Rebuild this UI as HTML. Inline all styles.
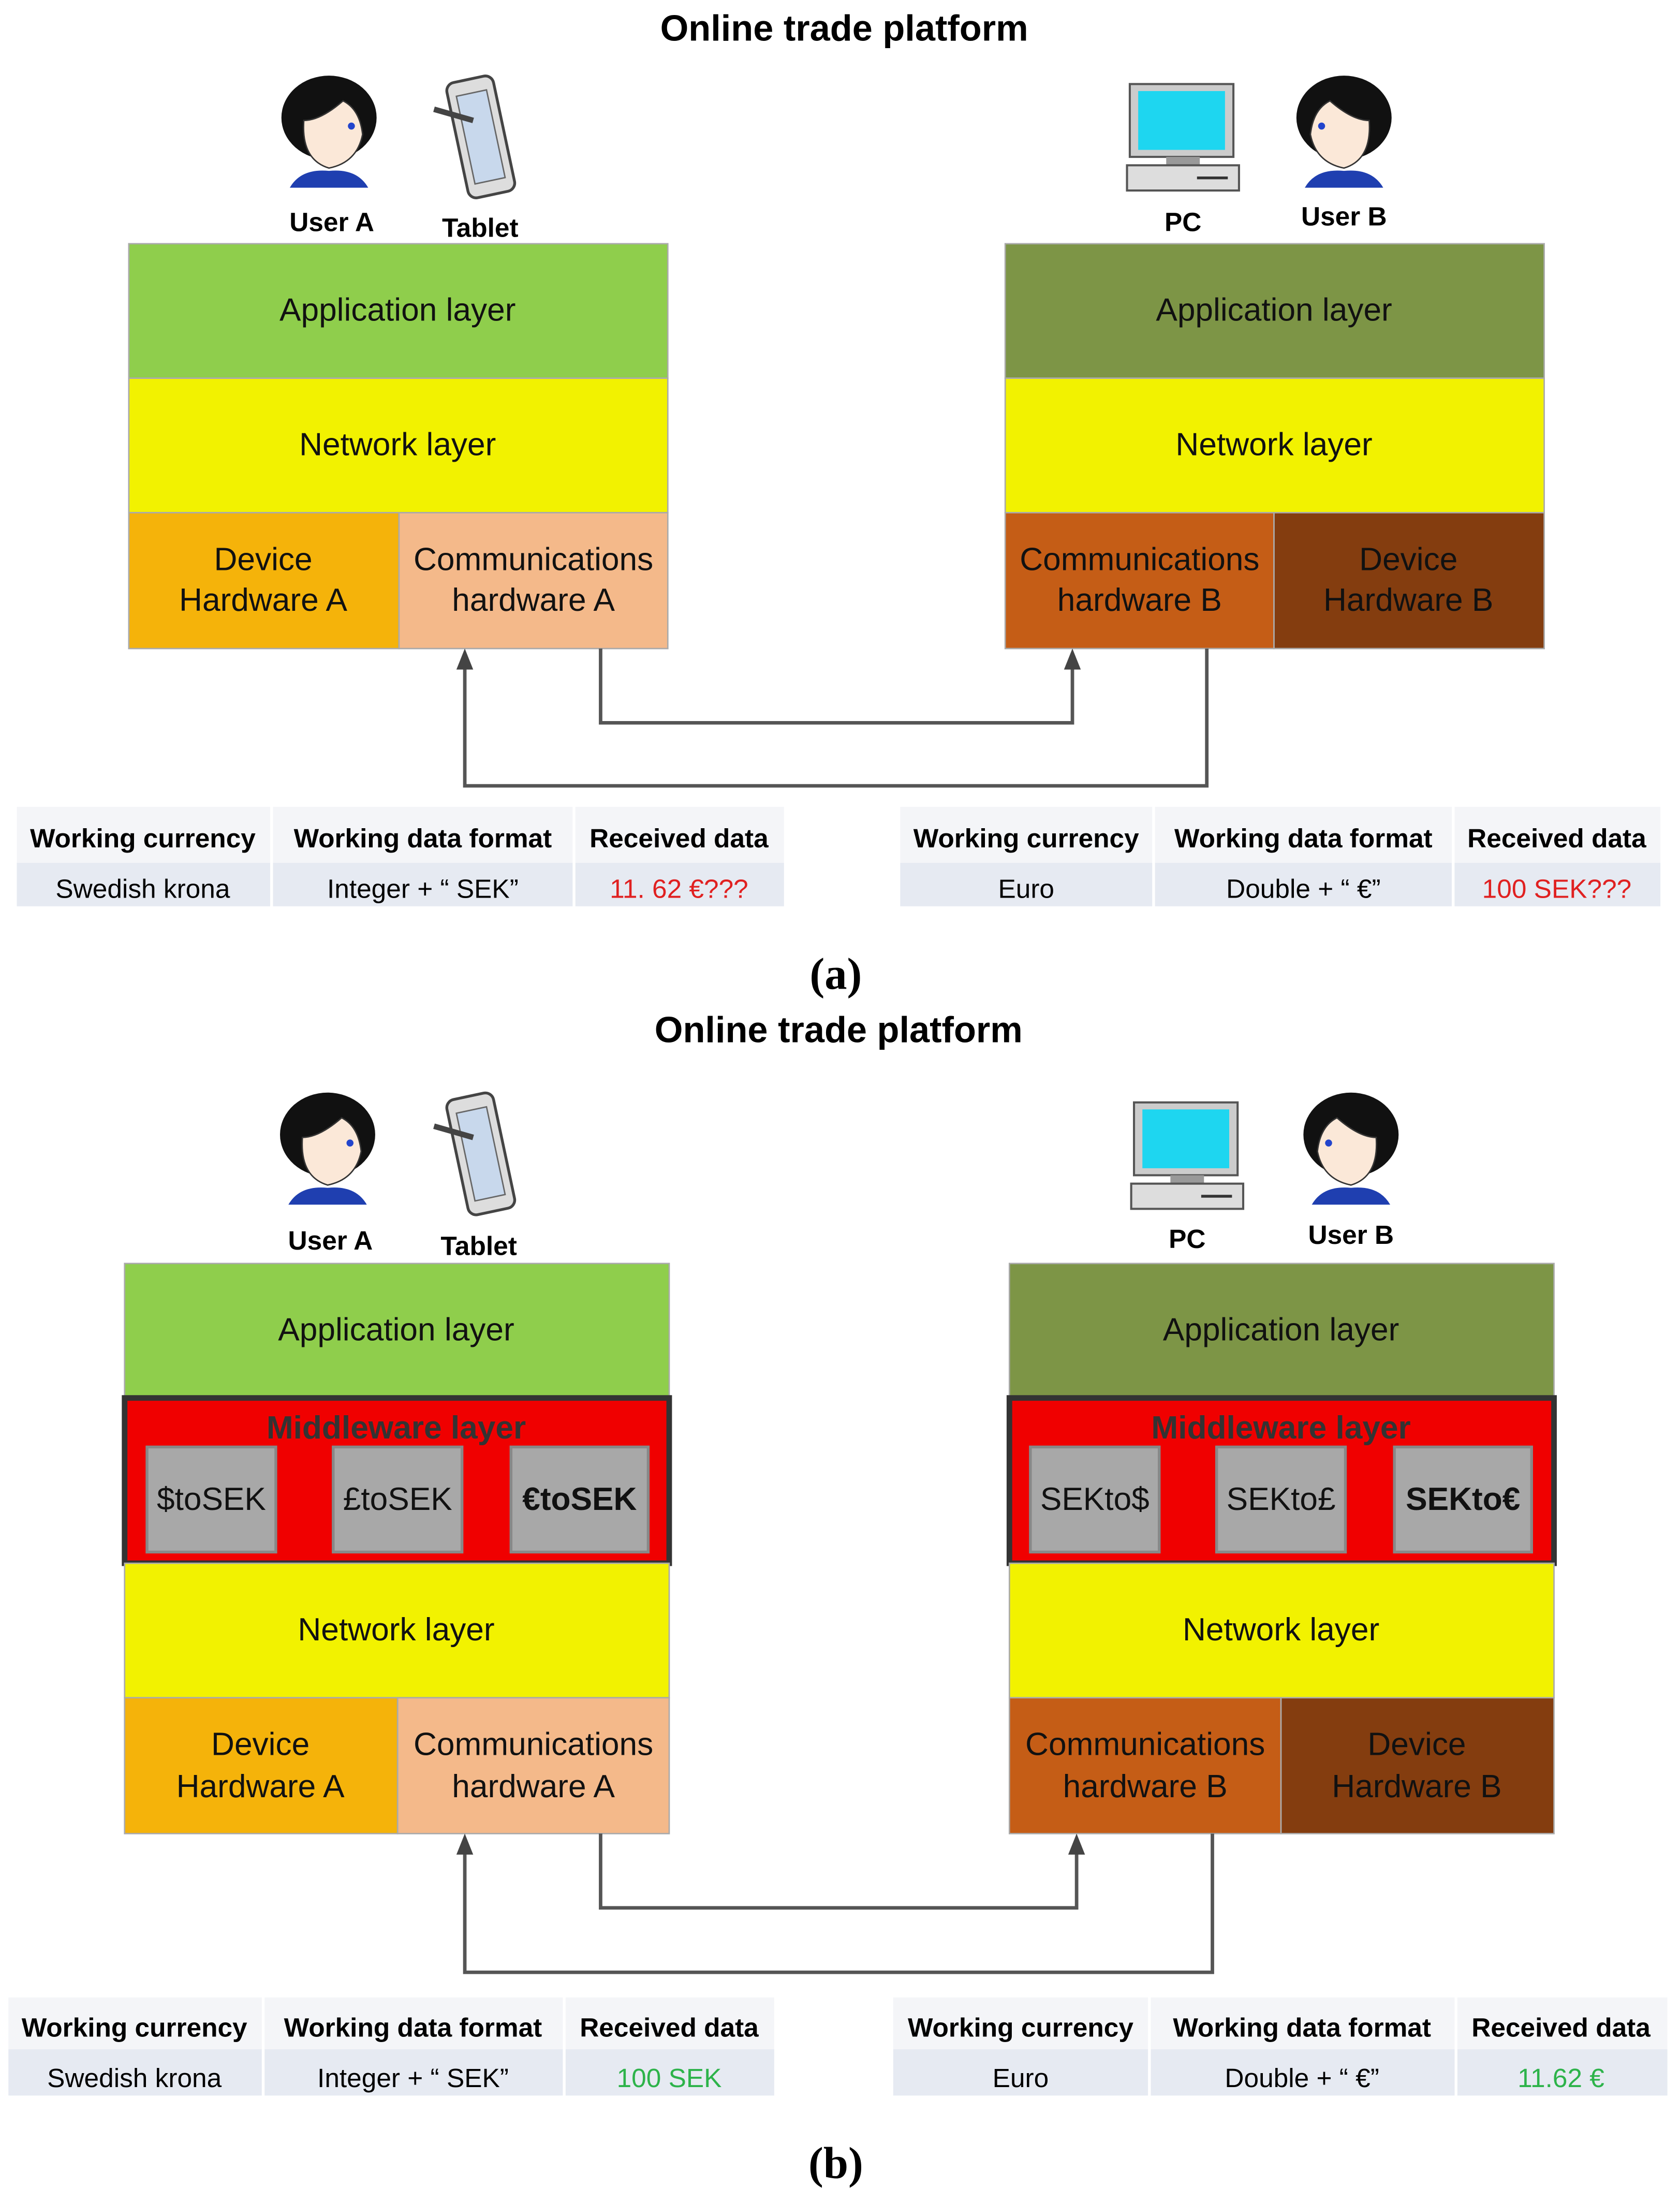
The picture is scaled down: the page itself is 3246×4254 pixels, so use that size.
<!DOCTYPE html>
<html><head><meta charset="utf-8"><style>
html,body{margin:0;padding:0;background:#fff;}
svg{display:block;}
text{font-family:"Liberation Sans",sans-serif;}
</style></head><body>
<svg width="3246" height="4254" viewBox="0 0 1200 1572" preserveAspectRatio="none" xmlns="http://www.w3.org/2000/svg">
<defs>
<g id="person">
<ellipse cx="0" cy="-8" rx="34" ry="30" fill="#111"/>
<path d="M-18,-6 Q-20,22 0,28 Q20,24 24,4 Q22,-14 10,-20 Q-6,-6 -18,-6Z" fill="#fbe8d8" stroke="#333" stroke-width="1"/>
<path d="M-28,42 Q-20,28 0,30 Q20,28 28,42Z" fill="#1f3fb0"/>
<circle cx="16" cy="-2" r="2.5" fill="#2244cc"/>
</g>
<g id="tablet">
<rect x="-16" y="-40" width="34" height="84" rx="6" fill="#ddd" stroke="#444" stroke-width="2" transform="rotate(-12)"/>
<rect x="-10" y="-30" width="22" height="64" fill="#c8d8ec" stroke="#666" transform="rotate(-12)"/>
<line x1="-32" y1="-18" x2="-4" y2="-10" stroke="#444" stroke-width="4"/>
</g>
<g id="pc">
<rect x="-38" y="-40" width="74" height="52" fill="#ccc" stroke="#555" stroke-width="1.5"/>
<rect x="-32" y="-35" width="62" height="42" fill="#1ed6f0"/>
<rect x="-12" y="12" width="24" height="6" fill="#999"/>
<rect x="-40" y="18" width="80" height="18" fill="#ddd" stroke="#555" stroke-width="1.5"/>
<line x1="10" y1="27" x2="32" y2="27" stroke="#333" stroke-width="2"/>
</g>
</defs>

<text x="603" y="29" font-size="26" font-weight="bold" text-anchor="middle">Online trade platform</text>
<use href="#person" x="235" y="92"/>
<text x="237" y="165" font-size="19" font-weight="bold" text-anchor="middle">User A</text>
<use href="#tablet" x="342" y="96"/>
<text x="343" y="169" font-size="19" font-weight="bold" text-anchor="middle">Tablet</text>
<use href="#pc" x="845" y="100"/>
<text x="845" y="165" font-size="19" font-weight="bold" text-anchor="middle">PC</text>
<g transform="translate(960,92) scale(-1,1)"><use href="#person"/></g>
<text x="960" y="161" font-size="19" font-weight="bold" text-anchor="middle">User B</text>

<g font-size="23" text-anchor="middle" fill="#111">
<rect x="92" y="174" width="385" height="96" fill="#8fce4c" stroke="#aaa"/>
<text x="284" y="229">Application layer</text>
<rect x="92" y="270" width="385" height="96" fill="#f2f200" stroke="#aaa"/>
<text x="284" y="325">Network layer</text>
<rect x="92" y="366" width="193" height="97" fill="#f5b30a" stroke="#aaa"/>
<text x="188" y="407">Device</text><text x="188" y="436">Hardware A</text>
<rect x="285" y="366" width="192" height="97" fill="#f4b98a" stroke="#aaa"/>
<text x="381" y="407">Communications</text><text x="381" y="436">hardware A</text>

<rect x="718" y="174" width="385" height="96" fill="#7d9546" stroke="#aaa"/>
<text x="910" y="229">Application layer</text>
<rect x="718" y="270" width="385" height="96" fill="#f2f200" stroke="#aaa"/>
<text x="910" y="325">Network layer</text>
<rect x="718" y="366" width="192" height="97" fill="#c55d16" stroke="#aaa"/>
<text x="814" y="407">Communications</text><text x="814" y="436">hardware B</text>
<rect x="910" y="366" width="193" height="97" fill="#843d0f" stroke="#aaa"/>
<text x="1006" y="407">Device</text><text x="1006" y="436">Hardware B</text>
</g>

<g fill="none" stroke="#555" stroke-width="2.5">
<polyline points="429,463 429,516 766,516 766,474"/>
<polyline points="862,463 862,561 332,561 332,474"/>
</g>
<path d="M760,478 L766,463 L772,478Z" fill="#444"/>
<path d="M326,478 L332,463 L338,478Z" fill="#444"/>

<g font-size="19">
<rect x="12" y="576" width="181" height="40" fill="#f4f5f8"/><rect x="195" y="576" width="214" height="40" fill="#f4f5f8"/><rect x="411" y="576" width="149" height="40" fill="#f4f5f8"/>
<rect x="12" y="616" width="181" height="31" fill="#e6eaf2"/><rect x="195" y="616" width="214" height="31" fill="#e6eaf2"/><rect x="411" y="616" width="149" height="31" fill="#e6eaf2"/>
<g font-weight="bold" text-anchor="middle">
<text x="102" y="605">Working currency</text><text x="302" y="605">Working data format</text><text x="485" y="605">Received data</text>
</g>
<g text-anchor="middle">
<text x="102" y="641">Swedish krona</text><text x="302" y="641">Integer + “ SEK”</text><text x="485" y="641" fill="#e02020">11. 62 €???</text>
</g>
<rect x="643" y="576" width="180" height="40" fill="#f4f5f8"/><rect x="825" y="576" width="212" height="40" fill="#f4f5f8"/><rect x="1039" y="576" width="147" height="40" fill="#f4f5f8"/>
<rect x="643" y="616" width="180" height="31" fill="#e6eaf2"/><rect x="825" y="616" width="212" height="31" fill="#e6eaf2"/><rect x="1039" y="616" width="147" height="31" fill="#e6eaf2"/>
<g font-weight="bold" text-anchor="middle">
<text x="733" y="605">Working currency</text><text x="931" y="605">Working data format</text><text x="1112" y="605">Received data</text>
</g>
<g text-anchor="middle">
<text x="733" y="641">Euro</text><text x="931" y="641">Double + “ €”</text><text x="1112" y="641" fill="#e02020">100 SEK???</text>
</g>
</g>
<text x="597" y="706" font-size="32" font-weight="bold" text-anchor="middle" style="font-family:'Liberation Serif',serif">(a)</text>

<text x="599" y="744" font-size="26" font-weight="bold" text-anchor="middle">Online trade platform</text>
<use href="#person" x="234" y="818"/>
<text x="236" y="892" font-size="19" font-weight="bold" text-anchor="middle">User A</text>
<use href="#tablet" x="342" y="822"/>
<text x="342" y="896" font-size="19" font-weight="bold" text-anchor="middle">Tablet</text>
<use href="#pc" x="848" y="827"/>
<text x="848" y="891" font-size="19" font-weight="bold" text-anchor="middle">PC</text>
<g transform="translate(965,818) scale(-1,1)"><use href="#person"/></g>
<text x="965" y="888" font-size="19" font-weight="bold" text-anchor="middle">User B</text>

<g font-size="23" text-anchor="middle" fill="#111">
<rect x="89" y="902" width="389" height="96" fill="#8fce4c" stroke="#aaa"/>
<text x="283" y="957">Application layer</text>
<rect x="89" y="998" width="389" height="118" fill="#f00000" stroke="#333" stroke-width="4"/>
<text x="283" y="1027" font-weight="bold" fill="#333">Middleware layer</text>
<rect x="105" y="1033" width="92" height="75" fill="#a8a8a8" stroke="#888" stroke-width="2"/><text x="151" y="1078">$toSEK</text>
<rect x="238" y="1033" width="92" height="75" fill="#a8a8a8" stroke="#888" stroke-width="2"/><text x="284" y="1078">£toSEK</text>
<rect x="365" y="1033" width="98" height="75" fill="#a8a8a8" stroke="#888" stroke-width="2"/><text x="414" y="1078" font-weight="bold">€toSEK</text>
<rect x="89" y="1116" width="389" height="96" fill="#f2f200" stroke="#aaa"/>
<text x="283" y="1171">Network layer</text>
<rect x="89" y="1212" width="195" height="97" fill="#f5b30a" stroke="#aaa"/>
<text x="186" y="1253">Device</text><text x="186" y="1283">Hardware A</text>
<rect x="284" y="1212" width="194" height="97" fill="#f4b98a" stroke="#aaa"/>
<text x="381" y="1253">Communications</text><text x="381" y="1283">hardware A</text>

<rect x="721" y="902" width="389" height="96" fill="#7d9546" stroke="#aaa"/>
<text x="915" y="957">Application layer</text>
<rect x="721" y="998" width="389" height="118" fill="#f00000" stroke="#333" stroke-width="4"/>
<text x="915" y="1027" font-weight="bold" fill="#333">Middleware layer</text>
<rect x="736" y="1033" width="92" height="75" fill="#a8a8a8" stroke="#888" stroke-width="2"/><text x="782" y="1078">SEKto$</text>
<rect x="869" y="1033" width="92" height="75" fill="#a8a8a8" stroke="#888" stroke-width="2"/><text x="915" y="1078">SEKto£</text>
<rect x="996" y="1033" width="98" height="75" fill="#a8a8a8" stroke="#888" stroke-width="2"/><text x="1045" y="1078" font-weight="bold">SEKto€</text>
<rect x="721" y="1116" width="389" height="96" fill="#f2f200" stroke="#aaa"/>
<text x="915" y="1171">Network layer</text>
<rect x="721" y="1212" width="194" height="97" fill="#c55d16" stroke="#aaa"/>
<text x="818" y="1253">Communications</text><text x="818" y="1283">hardware B</text>
<rect x="915" y="1212" width="195" height="97" fill="#843d0f" stroke="#aaa"/>
<text x="1012" y="1253">Device</text><text x="1012" y="1283">Hardware B</text>
</g>

<g fill="none" stroke="#555" stroke-width="2.5">
<polyline points="429,1309 429,1362 769,1362 769,1320"/>
<polyline points="866,1309 866,1408 332,1408 332,1320"/>
</g>
<path d="M763,1324 L769,1309 L775,1324Z" fill="#444"/>
<path d="M326,1324 L332,1309 L338,1324Z" fill="#444"/>

<g font-size="19">
<rect x="6" y="1426" width="181" height="37" fill="#f4f5f8"/><rect x="189" y="1426" width="213" height="37" fill="#f4f5f8"/><rect x="404" y="1426" width="149" height="37" fill="#f4f5f8"/>
<rect x="6" y="1463" width="181" height="33" fill="#e6eaf2"/><rect x="189" y="1463" width="213" height="33" fill="#e6eaf2"/><rect x="404" y="1463" width="149" height="33" fill="#e6eaf2"/>
<g font-weight="bold" text-anchor="middle">
<text x="96" y="1454">Working currency</text><text x="295" y="1454">Working data format</text><text x="478" y="1454">Received data</text>
</g>
<g text-anchor="middle">
<text x="96" y="1490">Swedish krona</text><text x="295" y="1490">Integer + “ SEK”</text><text x="478" y="1490" fill="#2db34a">100 SEK</text>
</g>
<rect x="638" y="1426" width="182" height="37" fill="#f4f5f8"/><rect x="822" y="1426" width="217" height="37" fill="#f4f5f8"/><rect x="1041" y="1426" width="150" height="37" fill="#f4f5f8"/>
<rect x="638" y="1463" width="182" height="33" fill="#e6eaf2"/><rect x="822" y="1463" width="217" height="33" fill="#e6eaf2"/><rect x="1041" y="1463" width="150" height="33" fill="#e6eaf2"/>
<g font-weight="bold" text-anchor="middle">
<text x="729" y="1454">Working currency</text><text x="930" y="1454">Working data format</text><text x="1115" y="1454">Received data</text>
</g>
<g text-anchor="middle">
<text x="729" y="1490">Euro</text><text x="930" y="1490">Double + “ €”</text><text x="1115" y="1490" fill="#2db34a">11.62 €</text>
</g>
</g>
<text x="597" y="1555" font-size="32" font-weight="bold" text-anchor="middle" style="font-family:'Liberation Serif',serif">(b)</text>
</svg>
</body></html>
